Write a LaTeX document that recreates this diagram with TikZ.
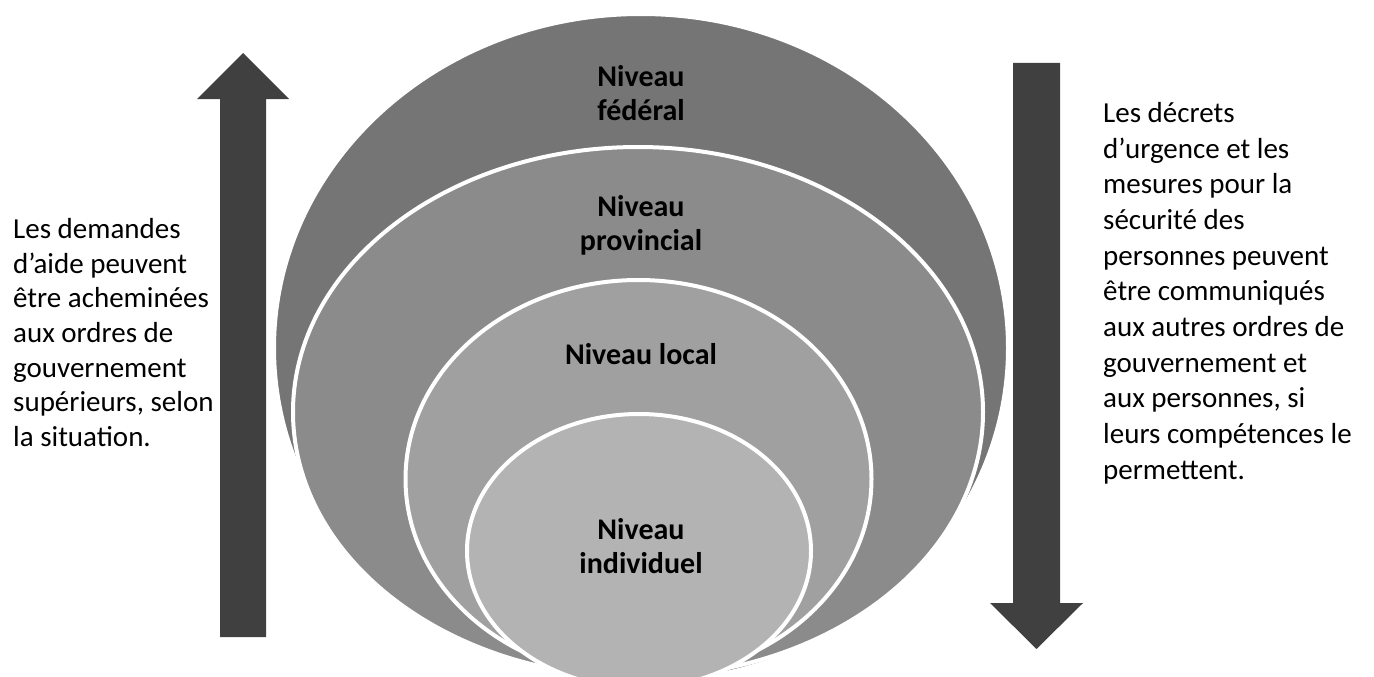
\documentclass[tikz,border=0pt]{standalone}
\usepackage{fontspec}
\setmainfont{Carlito}
\definecolor{fedgray}{HTML}{757575}
\definecolor{provgray}{HTML}{8B8B8B}
\definecolor{locgray}{HTML}{A0A0A0}
\definecolor{indivgray}{HTML}{B3B3B3}
\definecolor{arrowgray}{HTML}{404040}

\begin{document}
\begin{tikzpicture}[x=1pt, y=-1pt, niveau/.style={fill=#1, draw=white, line width=4pt}, etiquette/.style={font=\fontsize{30}{34}\selectfont\bfseries, align=center}, texte/.style={font=\fontsize{29}{#1}\selectfont, align=left, anchor=north west, inner sep=0pt}]
\useasboundingbox (0,0) rectangle (1374,677);
\clip (0,0) rectangle (1374,677);
\fill[arrowgray] (220,637) -- (220,99) -- (197,99) -- (243,53) -- (289,99) -- (266,99) -- (266,637) -- cycle;
\fill[arrowgray] (1013,63) -- (1013,603) -- (990,603) -- (1036.5,649) -- (1083,603) -- (1060,603) -- (1060,63) -- cycle;
\draw[niveau=fedgray] (641,348) ellipse [x radius=367pt, y radius=334pt];
\draw[niveau=provgray] (638,412) ellipse [x radius=345pt, y radius=265pt];
\draw[niveau=locgray] (638.5,479) ellipse [x radius=233pt, y radius=199pt];
\draw[niveau=indivgray] (639,551) ellipse [x radius=172pt, y radius=137pt];
\node[etiquette] (fed) at (641,93) {Niveau\\fédéral};
\node[etiquette] (prov) at (641,225) {Niveau\\provincial};
\node[etiquette] (loc) at (641,354) {Niveau local};
\node[etiquette] (indiv) at (641,546) {Niveau\\individuel};
\node[texte=34.7] (demandes) at (13,218) {Les demandes\\d’aide peuvent\\être acheminées\\aux ordres de\\gouvernement\\supérieurs, selon\\la situation.};
\node[texte=35.7] (decrets) at (1103,102) {Les décrets\\d’urgence et les\\mesures pour la\\sécurité des\\personnes peuvent\\être communiqués\\aux autres ordres de\\gouvernement et\\aux personnes, si\\leurs compétences le\\permettent.};
\end{tikzpicture}
\end{document}
